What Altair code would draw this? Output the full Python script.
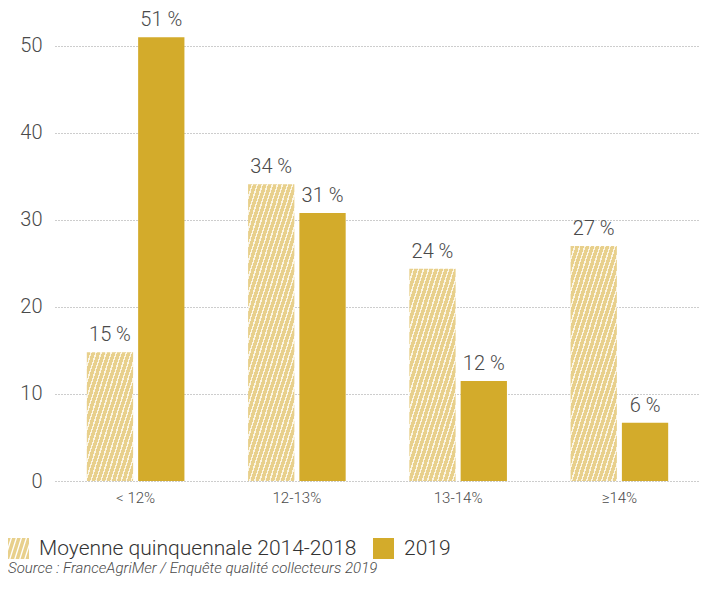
import math
import altair as alt
import pandas as pd

# ---- data ----
categories = ["< 12%", "12-13%", "13-14%", "≥14%"]
series_names = ["Moyenne quinquennale 2014-2018", "2019"]
avg_values = [14.8, 34.1, 24.4, 27.0]
y2019_values = [51.0, 30.8, 11.5, 6.7]
avg_labels = ["15 %", "34 %", "24 %", "27 %"]
y2019_labels = ["51 %", "31 %", "12 %", "6 %"]
y_ticks = [0, 10, 20, 30, 40, 50]

rows = []
for c, v, l in zip(categories, avg_values, avg_labels):
    rows.append({"cat": c, "series": series_names[0], "value": v, "label": l})
for c, v, l in zip(categories, y2019_values, y2019_labels):
    rows.append({"cat": c, "series": series_names[1], "value": v, "label": l})
df = pd.DataFrame(rows)

# ---- style ----
FONT = "Roboto"
GOLD = "#d3ab2b"
PALE = "#e8d08c"
LIGHT = "#fbf5e4"
TXT = "#4a4a4a"
W, H = 645, 473
YMAX = 54.35
PX = H / YMAX
BAR_W = 46.0
PERIOD = 5.0
SLOPE = 3.2
FRAC = 0.72


def hatch_gradient(value):
    h = value * PX
    w = BAR_W
    k = SLOPE * w / h
    gy = (k + 1) / (k * k + 1)
    gx = k * gy
    n = w / PERIOD + h / (PERIOD * SLOPE)
    stops = []
    i = 0
    while i / n < 1:
        o0 = i / n
        o1 = min((i + FRAC) / n, 1)
        o2 = min((i + 1) / n, 1)
        stops += [alt.GradientStop(offset=o0, color=PALE),
                  alt.GradientStop(offset=o1, color=PALE),
                  alt.GradientStop(offset=o1, color=LIGHT),
                  alt.GradientStop(offset=o2, color=LIGHT)]
        i += 1
    return alt.LinearGradient(gradient="linear", stops=stops,
                              x1=0, y1=0, x2=gx, y2=gy)


def clip(poly, a, b, c):
    out = []
    n = len(poly)
    for i in range(n):
        p, q = poly[i], poly[(i + 1) % n]
        fp = a * p[0] + b * p[1] - c
        fq = a * q[0] + b * q[1] - c
        if fp <= 0:
            out.append(p)
        if fp * fq < 0:
            t = fp / (fp - fq)
            out.append((p[0] + t * (q[0] - p[0]), p[1] + t * (q[1] - p[1])))
    return out


def hatch_symbol():
    p = PERIOD * 2 / 21.0
    sq = [(-1, -1), (1, -1), (1, 1), (-1, 1)]
    parts = []
    i = -6
    while True:
        lo = -1.4 + i * p
        if lo > 1.4:
            break
        hi = lo + FRAC * p
        poly = clip(sq, 1, 1 / SLOPE, hi)
        poly = clip(poly, -1, -1 / SLOPE, -lo) if poly else []
        if len(poly) >= 3:
            parts.append("M" + "L".join(f"{x:.3f},{y:.3f}" for x, y in poly) + "Z")
        i += 1
    return "".join(parts)


x_enc = alt.X("cat:N", sort=categories, title=None,
              scale=alt.Scale(paddingInner=0, paddingOuter=0),
              axis=alt.Axis(labelFontSize=15, labelColor=TXT, labelFont=FONT,
                            labelFontWeight=300, labelPadding=9, ticks=False,
                            domain=False, labelAngle=0))
xo_enc = alt.XOffset("series:N", sort=series_names,
                     scale=alt.Scale(domain=series_names, paddingInner=0.098,
                                     paddingOuter=0.62))
y_enc = alt.Y("value:Q", title=None,
              scale=alt.Scale(domain=[0, YMAX], nice=False),
              axis=alt.Axis(values=y_ticks, labelFontSize=20, labelColor=TXT,
                            labelFont=FONT, labelFontWeight=300, labelPadding=13,
                            ticks=False, domain=False, grid=True,
                            gridColor="#9a9a9a", gridDash=[1, 2], gridWidth=1))

base = alt.Chart(df)

# hidden points (behind the bars) that carry the legend
legend_pts = base.mark_point(filled=True, opacity=1, size=20).transform_calculate(
    mid="datum.value / 2"
).encode(
    x=x_enc, xOffset=xo_enc,
    y=alt.Y("mid:Q", scale=alt.Scale(domain=[0, YMAX], nice=False)),
    color=alt.Color("series:N", sort=series_names, title=None,
                    scale=alt.Scale(domain=series_names, range=[PALE, GOLD]),
                    legend=alt.Legend(orient="none", legendX=-47, legendY=530,
                                      direction="horizontal", symbolSize=441,
                                      symbolStrokeWidth=0, labelFontSize=21,
                                      labelFont=FONT, labelFontWeight=300,
                                      labelColor="#333333", labelOffset=10,
                                      columnPadding=16, padding=0,
                                      labelLimit=400)),
    shape=alt.Shape("series:N", sort=series_names, title=None,
                    scale=alt.Scale(domain=series_names,
                                    range=[hatch_symbol(), "square"])),
)

layers = [legend_pts]
for c, v in zip(categories, avg_values):
    layers.append(
        base.transform_filter(
            (alt.datum.cat == c) & (alt.datum.series == series_names[0])
        ).mark_bar(fill=hatch_gradient(v)).encode(x=x_enc, xOffset=xo_enc, y=y_enc)
    )
layers.append(
    base.transform_filter(alt.datum.series == series_names[1])
    .mark_bar(fill=GOLD).encode(x=x_enc, xOffset=xo_enc, y=y_enc)
)
labels = base.mark_text(baseline="bottom", dy=-7, fontSize=20, font=FONT,
                        fontWeight=300, color=TXT).encode(
    x=x_enc, xOffset=xo_enc, y=y_enc, text="label:N")
layers.append(labels)

chart = alt.layer(*layers).properties(
    width=W, height=H,
    padding={"left": 0, "top": 0, "right": 0, "bottom": 0},
    title=alt.TitleParams(
        text="Source : FranceAgriMer / Enquête qualité collecteurs 2019",
        orient="bottom", anchor="start", frame="group", dx=-47, offset=2,
        fontSize=15, font=FONT, fontStyle="italic", fontWeight=300, color=TXT),
).configure_view(stroke=None)

chart.save("out.html", embed_options={"renderer": "svg", "actions": False})
